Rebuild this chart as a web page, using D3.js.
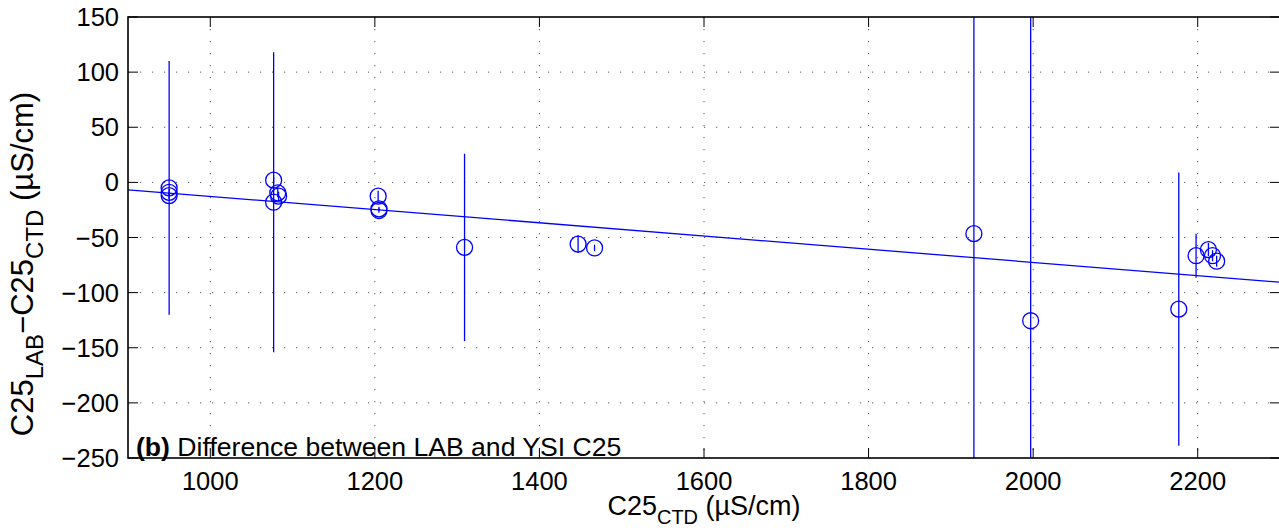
<!DOCTYPE html>
<html>
<head>
<meta charset="utf-8">
<script src="https://cdn.jsdelivr.net/npm/d3@7"></script>
<style>
  body { margin: 0; background: #fff; }
  svg { display: block; font-family: 'Liberation Sans', Arial, Helvetica, sans-serif; }
  .grid line { stroke: #555; stroke-width: 1; stroke-dasharray: 1.2, 10.8; }
  .tick-label { font-size: 25.5px; fill: #000; }
</style>
</head>
<body>
<div class="vis"></div>
<script>
// C25 measured by CTD (x) vs difference LAB - CTD (y), with error half-widths
const ctd = [950, 950, 950, 1077, 1082, 1083, 1077, 1204, 1205, 1205, 1309, 1447, 1467, 1928, 1997, 2177, 2198, 2213, 2218, 2223]
const diff = [-5, -9, -12, 2, -9.5, -12.5, -18, -12.5, -24, -25.5, -59, -56, -59.5, -46.5, -125.5, -115, -66.5, -61, -66.5, -71.5]
const err = [115, 3, 3, 3, 4, 4, 136, 5, 2, 2, 85, 8, 3, 400, 400, 124, 20, 6, 5, 5]

// linear fit diff = a + b * ctd
const fitCoef = [47.2, -0.0599]

const xTicks = [1000, 1200, 1400, 1600, 1800, 2000, 2200]
const yTicks = [150, 100, 50, 0, -50, -100, -150, -200, -250]

const W = 1279
const H = 531
const MARGIN = { top: 17, left: 128, right: -1, bottom: 73 }
const chartW = W - MARGIN.left - MARGIN.right
const chartH = H - MARGIN.top - MARGIN.bottom
const tickLen = 10
const blue = '#0000ff'

const fmt = d => (d < 0 ? '\u2212' + Math.abs(d) : String(d))

const scale = {}
scale.x = d3.scaleLinear().domain([900, 2300]).range([0, chartW])
scale.y = d3.scaleLinear().domain([-250, 150]).range([chartH, 0])

const svg = d3.select('.vis').append('svg')
	.attr('width', W)
	.attr('height', H)

svg.append('defs').append('clipPath')
	.attr('id', 'plot-clip')
	.append('rect')
	.attr('width', chartW)
	.attr('height', chartH)

const chart = svg.append('g')
	.attr('transform', `translate(${MARGIN.left},${MARGIN.top})`)

// annotation (drawn under grid, like the original)
const note = chart.append('text')
	.attr('x', 8)
	.attr('y', chartH - 2)
	.style('font-size', '26.6px')
note.append('tspan').attr('font-weight', 'bold').text('(b)')
note.append('tspan').text(' Difference between LAB and YSI C25')

// grid
const grid = chart.append('g').attr('class', 'grid')
grid.selectAll('.gx').data(xTicks).enter()
	.append('line')
	.attr('x1', d => scale.x(d)).attr('x2', d => scale.x(d))
	.attr('y1', 0).attr('y2', chartH)
grid.selectAll('.gy').data(yTicks.filter(d => d !== 150 && d !== -250)).enter()
	.append('line')
	.attr('x1', 0).attr('x2', chartW)
	.attr('y1', d => scale.y(d)).attr('y2', d => scale.y(d))

// data
const plot = chart.append('g').attr('clip-path', 'url(#plot-clip)')

const line = d3.line()
	.x(d => scale.x(d))
	.y(d => scale.y(fitCoef[0] + fitCoef[1] * d))

plot.append('path')
	.attr('d', line(scale.x.domain()))
	.attr('fill', 'none')
	.attr('stroke', blue)
	.attr('stroke-width', 1.3)

const points = ctd.map((x, i) => ({ x, y: diff[i], e: err[i] }))

plot.selectAll('.err').data(points).enter()
	.append('line')
	.attr('class', 'err')
	.attr('x1', d => scale.x(d.x)).attr('x2', d => scale.x(d.x))
	.attr('y1', d => scale.y(d.y - d.e))
	.attr('y2', d => scale.y(d.y + d.e))
	.attr('stroke', blue)
	.attr('stroke-width', 1.3)

plot.selectAll('.pt').data(points).enter()
	.append('circle')
	.attr('class', 'pt')
	.attr('cx', d => scale.x(d.x))
	.attr('cy', d => scale.y(d.y))
	.attr('r', 8)
	.attr('fill', 'none')
	.attr('stroke', blue)
	.attr('stroke-width', 1.3)

// axes box with inward ticks on all sides
const axes = chart.append('g')
axes.append('rect')
	.attr('width', chartW).attr('height', chartH)
	.attr('fill', 'none').attr('stroke', '#000').attr('stroke-width', 1.6)

xTicks.forEach(t => {
	const x = scale.x(t)
	axes.append('line').attr('x1', x).attr('x2', x).attr('y1', chartH).attr('y2', chartH - tickLen).attr('stroke', '#000')
	axes.append('line').attr('x1', x).attr('x2', x).attr('y1', 0).attr('y2', tickLen).attr('stroke', '#000')
	axes.append('text')
		.attr('class', 'tick-label')
		.attr('x', x)
		.attr('y', chartH + 32)
		.attr('text-anchor', 'middle')
		.text(fmt(t))
})

yTicks.forEach(t => {
	const y = scale.y(t)
	axes.append('line').attr('x1', 0).attr('x2', tickLen).attr('y1', y).attr('y2', y).attr('stroke', '#000')
	axes.append('line').attr('x1', chartW).attr('x2', chartW - tickLen).attr('y1', y).attr('y2', y).attr('stroke', '#000')
	axes.append('text')
		.attr('class', 'tick-label')
		.attr('x', -9)
		.attr('y', y + 9)
		.attr('text-anchor', 'end')
		.text(fmt(t))
})

// axis labels
const xLabel = svg.append('text')
	.attr('x', MARGIN.left + chartW / 2)
	.attr('y', 515)
	.attr('text-anchor', 'middle')
	.style('font-size', '27px')
xLabel.append('tspan').text('C25')
xLabel.append('tspan').attr('dy', 9).style('font-size', '20px').text('CTD')
xLabel.append('tspan').attr('dy', -9).text(' (\u00b5S/cm)')

const yLabel = svg.append('text')
	.attr('transform', `translate(33,264) rotate(-90)`)
	.attr('text-anchor', 'middle')
	.style('font-size', '31px')
yLabel.append('tspan').text('C25')
yLabel.append('tspan').attr('dy', 10).style('font-size', '24px').text('LAB')
yLabel.append('tspan').attr('dy', -10).text('\u2212C25')
yLabel.append('tspan').attr('dy', 10).style('font-size', '24px').text('CTD')
yLabel.append('tspan').attr('dy', -10).text(' (\u00b5S/cm)')
</script>
</body>
</html>
